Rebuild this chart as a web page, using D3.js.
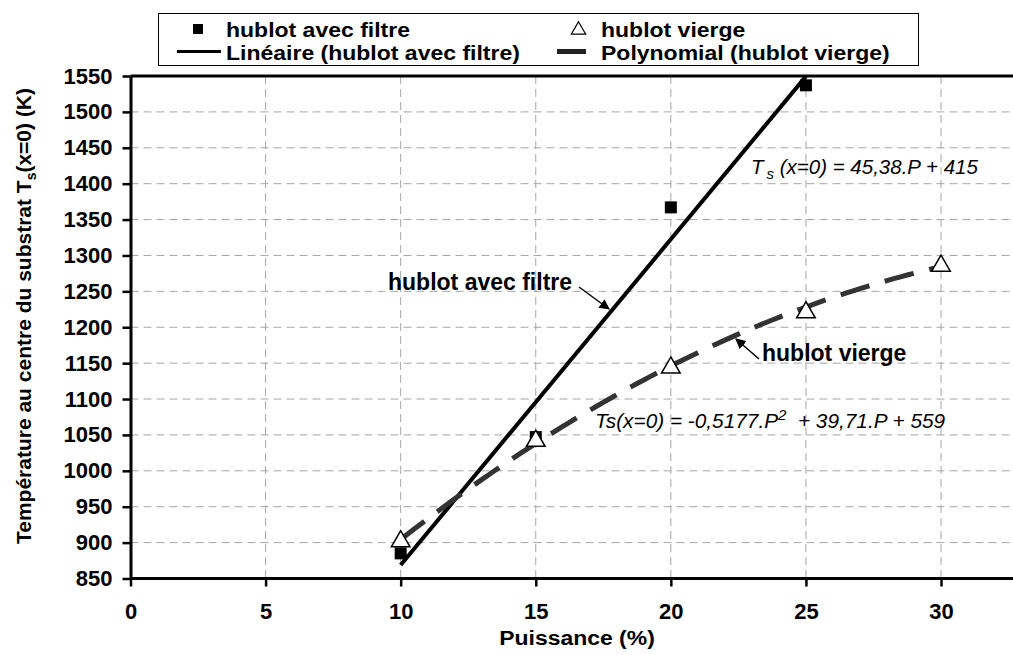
<!DOCTYPE html>
<html><head><meta charset="utf-8">
<script src="https://cdn.jsdelivr.net/npm/d3@7"></script>
<style>
body{margin:0;background:#fff}
svg{display:block;font-family:Arial,"Liberation Sans",sans-serif}
</style>
</head><body><svg id="c" width="1013" height="655"></svg>
<script>
// ---- data ----
const puissanceFiltre = [10, 15, 20, 25];
const tempFiltre = [885, 1047, 1367, 1537];
const puissanceVierge = [10, 15, 20, 25, 30];
const tempVierge = [903, 1043, 1145, 1222, 1287];
const linCoef = [415, 45.38];            // Ts = 45,38.P + 415
const polyCoef = [559, 39.71, -0.5177];  // Ts = -0,5177.P² + 39,71.P + 559
const xTicks = [0, 5, 10, 15, 20, 25, 30];
const yTicks = [850, 900, 950, 1000, 1050, 1100, 1150, 1200, 1250, 1300, 1350, 1400, 1450, 1500, 1550];
const seriesNames = ["hublot avec filtre", "hublot vierge", "Linéaire (hublot avec filtre)", "Polynomial (hublot vierge)"];

const svg = d3.select("#c");
const L = 130.5, T = 76, B = 578.5;
const x = d3.scaleLinear().domain([0, 33]).range([L, L + 33 * 27.017]);
const y = d3.scaleLinear().domain([850, 1550]).range([B, T]);

// grid
const grid = svg.append("g").attr("stroke", "#a6a6a6").attr("stroke-width", 1).attr("stroke-dasharray", "8,5");
grid.selectAll("line.h").data(yTicks.filter(v => v > 850 && v < 1550)).join("line")
  .attr("x1", L).attr("x2", 1013).attr("y1", d => y(d)).attr("y2", d => y(d));
grid.selectAll("line.v").data(xTicks.filter(v => v > 0)).join("line")
  .attr("x1", d => x(d)).attr("x2", d => x(d)).attr("y1", T).attr("y2", B);

// top border
svg.append("line").attr("x1", L).attr("x2", 1013).attr("y1", y(1550)).attr("y2", y(1550))
  .attr("stroke", "#000").attr("stroke-width", 3);

// axes
const xAxis = svg.append("g").attr("transform", `translate(0,${B})`)
  .call(d3.axisBottom(x).tickValues(xTicks).tickFormat(d3.format("d")).tickSize(8).tickSizeOuter(0).tickPadding(17));
const yAxis = svg.append("g").attr("transform", `translate(${L},0)`)
  .call(d3.axisLeft(y).tickValues(yTicks).tickFormat(d3.format("d")).tickSize(8).tickSizeOuter(0).tickPadding(10));
[xAxis, yAxis].forEach(g => {
  g.select(".domain").attr("stroke", "#000").attr("stroke-width", 3);
  g.selectAll(".tick line").attr("stroke", "#000").attr("stroke-width", 2.5);
  g.selectAll(".tick text").attr("fill", "#000").style("font-size", "22px").style("font-weight", "bold")
    .style("font-family", "Arial, 'Liberation Sans', sans-serif");
});
// extend x axis line to right edge
xAxis.select(".domain").attr("d", `M${L},0H1013`);

// trendlines
const linData = [10, 25].map(p => [p, linCoef[0] + linCoef[1] * p]);
svg.append("path").datum(linData)
  .attr("d", d3.line().x(d => x(d[0])).y(d => y(d[1])))
  .attr("fill", "none").attr("stroke", "#000").attr("stroke-width", 4);

const polyData = d3.range(10, 30.001, 0.25).map(p => [p, polyCoef[0] + polyCoef[1] * p + polyCoef[2] * p * p]);
svg.append("path").datum(polyData)
  .attr("d", d3.line().x(d => x(d[0])).y(d => y(d[1])))
  .attr("fill", "none").attr("stroke", "#333").attr("stroke-width", 5)
  .attr("stroke-dasharray", "30,16");

// markers
svg.selectAll("rect.sq").data(puissanceFiltre.map((p, i) => [p, tempFiltre[i]])).join("rect")
  .attr("x", d => x(d[0]) - 6).attr("y", d => y(d[1]) - 6).attr("width", 12).attr("height", 12).attr("fill", "#000");
const tri = d3.symbol().type(d3.symbolTriangle).size(150);
svg.selectAll("path.tri").data(puissanceVierge.map((p, i) => [p, tempVierge[i]])).join("path")
  .attr("d", tri).attr("transform", d => `translate(${x(d[0])},${y(d[1]) + 1})`)
  .attr("fill", "#fff").attr("stroke", "#000").attr("stroke-width", 1.5);

// axis titles
svg.append("text").attr("transform", "translate(577,645) scale(1.12,1)").attr("text-anchor", "middle")
  .style("font-size", "20.5px").style("font-weight", "bold").text("Puissance (%)");
const yt = svg.append("text").attr("transform", "translate(31,316) rotate(-90)").attr("text-anchor", "middle")
  .style("font-size", "21px").style("font-weight", "bold");
yt.append("tspan").text("Température au centre du substrat T");
yt.append("tspan").attr("dy", 5).style("font-size", "14px").text("s");
yt.append("tspan").attr("dy", -5).text("(x=0) (K)");

// annotations
svg.append("defs").append("marker").attr("id", "ah").attr("viewBox", "0 0 10 10").attr("refX", 9).attr("refY", 5)
  .attr("markerWidth", 7).attr("markerHeight", 7).attr("orient", "auto")
  .append("path").attr("d", "M0,0L10,5L0,10Z").attr("fill", "#000");
svg.append("text").attr("x", 388).attr("y", 290).style("font-size", "23px").style("font-weight", "bold").text(seriesNames[0]);
svg.append("line").attr("x1", 579).attr("y1", 287).attr("x2", 609).attr("y2", 309)
  .attr("stroke", "#000").attr("stroke-width", 1.5).attr("marker-end", "url(#ah)");
svg.append("text").attr("x", 762).attr("y", 361).style("font-size", "23px").style("font-weight", "bold").text(seriesNames[1]);
svg.append("line").attr("x1", 759).attr("y1", 359).attr("x2", 736).attr("y2", 339)
  .attr("stroke", "#000").attr("stroke-width", 1.5).attr("marker-end", "url(#ah)");

const eq1 = svg.append("text").attr("x", 751).attr("y", 174).style("font-size", "20.5px").style("font-style", "italic");
eq1.append("tspan").text("T");
eq1.append("tspan").attr("dx", 3).attr("dy", 5).style("font-size", "15px").text("s");
eq1.append("tspan").attr("dy", -5).text(" (x=0) = 45,38.P + 415");

const eq2 = svg.append("text").attr("x", 595).attr("y", 428).attr("xml:space", "preserve")
  .style("font-size", "20.8px").style("font-style", "italic");
eq2.append("tspan").text("Ts(x=0) = -0,5177.P");
eq2.append("tspan").attr("dy", -8).style("font-size", "15px").text("2");
eq2.append("tspan").attr("dy", 8).text("  + 39,71.P + 559");

// legend
const lg = svg.append("g");
lg.append("rect").attr("x", 158.5).attr("y", 13.5).attr("width", 760).attr("height", 52)
  .attr("fill", "#fff").attr("stroke", "#000").attr("stroke-width", 1);
lg.append("rect").attr("x", 193).attr("y", 24).attr("width", 10).attr("height", 10).attr("fill", "#000");
lg.append("path").attr("d", d3.symbol().type(d3.symbolTriangle).size(90)).attr("transform", "translate(578.5,30)")
  .attr("fill", "#fff").attr("stroke", "#000").attr("stroke-width", 1.2);
lg.append("line").attr("x1", 177).attr("x2", 221).attr("y1", 51.5).attr("y2", 51.5).attr("stroke", "#000").attr("stroke-width", 3);
lg.append("line").attr("x1", 557).attr("x2", 586).attr("y1", 51.5).attr("y2", 51.5).attr("stroke", "#222").attr("stroke-width", 5);
const legText = [[226, 37, seriesNames[0]], [601, 37, seriesNames[1]], [226, 59.5, seriesNames[2]], [601, 59.5, seriesNames[3]]];
lg.selectAll("text").data(legText).join("text")
  .attr("transform", d => `translate(${d[0]},${d[1]}) scale(1.15,1)`)
  .style("font-size", "20px").style("font-weight", "bold").text(d => d[2]);
</script>
</body></html>
